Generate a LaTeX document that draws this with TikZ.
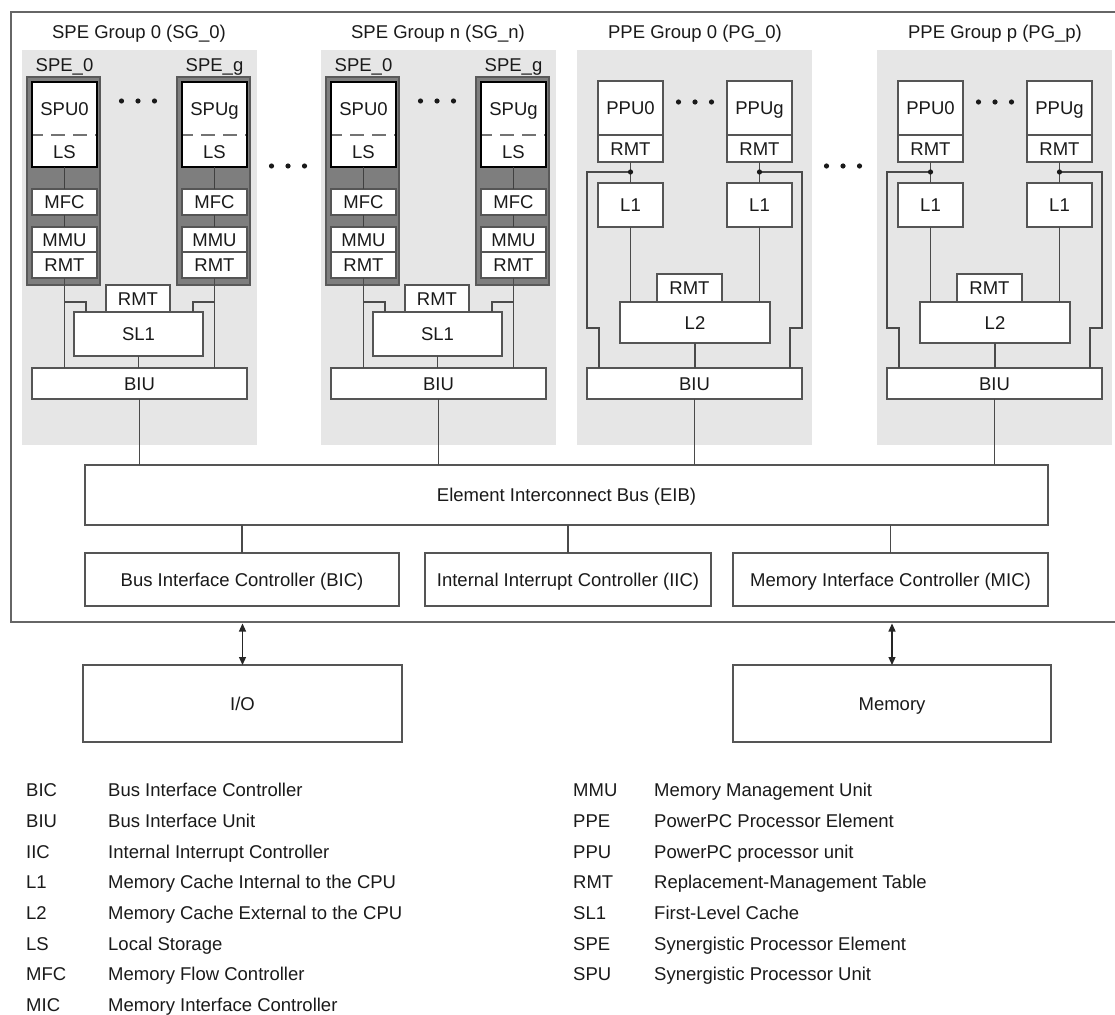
\documentclass[tikz,border=0pt]{standalone}
\usepackage{fontspec}
\setmainfont{Liberation Sans}
\usetikzlibrary{arrows.meta}
\definecolor{bggray}{HTML}{E6E6E6}
\definecolor{spedark}{HTML}{7E7E7E}
\definecolor{linec}{HTML}{4A4A4A}
\definecolor{boxc}{HTML}{555555}
\definecolor{textc}{HTML}{1A1A1A}
\newcommand{\fsz}{\fontsize{18.5}{22}\selectfont}

\newcommand{\mybox}[7][]{%
  \pgfmathsetmacro\mbw{(#5)-(#3)}%
  \pgfmathsetmacro\mbh{(#6)-(#4)}%
  \pgfmathsetmacro\mbx{((#3)+(#5))/2}%
  \pgfmathsetmacro\mby{((#4)+(#6))/2}%
  \node[ubox,minimum width=\mbw pt,minimum height=\mbh pt,#1] (#2) at (\mbx,\mby) {#7};}

\newcommand{\threedots}[2]{%
  \fill[textc] ({#1-16.5},#2) circle (2.6pt) ({#1},#2) circle (2.6pt) ({#1+16.5},#2) circle (2.6pt);}

\newcommand{\SPEunit}[3]{%
  \mybox[speframe]{#1fr}{#2+27}{77}{#2+100}{285}{}
  \mybox[spubox]{#1spu}{#2+32}{82}{#2+97}{167}{}
  \draw[dashln] ({#2+33},135) -- ({#2+96},135);
  \node[txtn] (#1spt) at ({#2+64.5},109) {#3};
  \node[txtn] (#1lst) at ({#2+64.5},152) {LS};
  \mybox{#1mfc}{#2+32}{189}{#2+97}{215}{MFC}
  \mybox{#1mmu}{#2+32}{227}{#2+97}{252}{MMU}
  \mybox{#1rmt}{#2+32}{252}{#2+97}{278}{RMT}
  \draw[darkln] (#1spu.south) -- (#1mfc.north);
  \draw[darkln] (#1mfc.south) -- (#1mmu.north);
}

\newcommand{\SPEgroup}[3]{%
  \fill[groupbg] ({#2+22},50) rectangle ({#2+257},445);
  \node[txtn] (#1title) at ({#2+139},32) {#3};
  \node[txtn] (#1labz) at ({#2+64.5},65) {SPE\_0};
  \node[txtn] (#1labg) at ({#2+214.5},65) {SPE\_g};
  \SPEunit{#1a}{#2}{SPU0}
  \SPEunit{#1b}{#2+150}{SPUg}
  \threedots{#2+138}{101}
  \mybox{#1rmtc}{#2+106}{285}{#2+170}{312}{RMT}
  \mybox{#1sl}{#2+74}{312}{#2+203}{356}{SL1}
  \mybox{#1biu}{#2+32}{368}{#2+247}{399}{BIU}
  \coordinate (#1ua) at ({#2+64.5},302);
  \coordinate (#1ub) at ({#2+86},302);
  \coordinate (#1va) at ({#2+214.5},302);
  \coordinate (#1vb) at ({#2+193},302);
  \draw[conn] (#1armt.south) -- (#1armt.south |- #1biu.north);
  \draw[conn] (#1brmt.south) -- (#1brmt.south |- #1biu.north);
  \draw[conn] (#1ua) -- (#1ub) -- (#1ub |- #1sl.north);
  \draw[conn] (#1va) -- (#1vb) -- (#1vb |- #1sl.north);
  \draw[conn] (#1sl.south) -- (#1sl.south |- #1biu.north);
}

\newcommand{\PPEgroup}[3]{%
  \fill[groupbg] ({#2+577},50) rectangle ({#2+812},445);
  \node[txtn] (#1title) at ({#2+695},32) {#3};
  \mybox{#1ppuz}{#2+598}{81}{#2+663}{135}{PPU0}
  \mybox{#1rmtz}{#2+598}{135}{#2+663}{162}{RMT}
  \mybox{#1ppug}{#2+727}{81}{#2+792}{135}{PPUg}
  \mybox{#1rmtg}{#2+727}{135}{#2+792}{162}{RMT}
  \threedots{#2+695}{102}
  \mybox{#1lonez}{#2+598}{183}{#2+663}{227}{L1}
  \mybox{#1loneg}{#2+727}{183}{#2+792}{227}{L1}
  \mybox{#1rmtl}{#2+657}{274}{#2+722}{302}{RMT}
  \mybox{#1ltwo}{#2+620}{302}{#2+770}{343}{L2}
  \mybox{#1biu}{#2+587}{368}{#2+802}{399}{BIU}
  \coordinate (#1jz) at ({#2+630.5},172);
  \coordinate (#1jg) at ({#2+759.5},172);
  \coordinate (#1pa) at ({#2+587},172);
  \coordinate (#1pb) at ({#2+587},328);
  \coordinate (#1pc) at ({#2+599},328);
  \coordinate (#1qa) at ({#2+802},172);
  \coordinate (#1qb) at ({#2+802},328);
  \coordinate (#1qc) at ({#2+790},328);
  \draw[conn] (#1rmtz.south) -- (#1lonez.north);
  \draw[conn] (#1rmtg.south) -- (#1loneg.north);
  \draw[conn] (#1jz) -- (#1pa) -- (#1pb) -- (#1pc) -- (#1pc |- #1biu.north);
  \draw[conn] (#1jg) -- (#1qa) -- (#1qb) -- (#1qc) -- (#1qc |- #1biu.north);
  \fill[textc] (#1jz) circle (2.6pt) (#1jg) circle (2.6pt);
  \draw[conn] (#1lonez.south) -- (#1lonez.south |- #1ltwo.north);
  \draw[conn] (#1loneg.south) -- (#1loneg.south |- #1ltwo.north);
  \draw[conn] (#1ltwo.south) -- (#1ltwo.south |- #1biu.north);
}

\begin{document}
\begin{tikzpicture}[x=1pt,y=-1pt,
  ubox/.style={draw=boxc,fill=white,line width=1.1pt,inner sep=0pt,outer sep=0pt,
    text height=13.2pt,text depth=0pt,font=\fsz,text=textc},
  speframe/.style={fill=spedark,draw=black!65},
  spubox/.style={draw=black,line width=2pt},
  txtn/.style={inner sep=0pt,text height=13.2pt,text depth=0pt,font=\fsz,text=textc},
  conn/.style={draw=linec,line width=1.1pt},
  darkln/.style={draw=black!75,line width=1.1pt},
  dashln/.style={draw=black!55,line width=1.1pt,dash pattern=on 14pt off 8pt,dash phase=4pt},
  groupbg/.style={fill=bggray},
  framec/.style={draw=black!60,line width=1.3pt},
  dbl/.style={draw=black!85,line width=1.2pt,
    {Triangle[length=8pt,width=7pt]}-{Triangle[length=8pt,width=7pt]}},
  legt/.style={anchor=base west,inner sep=0pt,font=\fsz,text=textc}]
\useasboundingbox (0,0) rectangle (1115,1014);
\fill[white] (0,0) rectangle (1115,1014);

% outer frame (right edge outside the picture)
\coordinate (frTR) at (1125,12);
\coordinate (frTL) at (11,12);
\coordinate (frBL) at (11,622);
\coordinate (frBR) at (1125,622);
\draw[framec] (frTR) -- (frTL) -- (frBL) -- (frBR);

\SPEgroup{sa}{0}{SPE Group 0 (SG\_0)}
\SPEgroup{sb}{299}{SPE Group n (SG\_n)}
\PPEgroup{pa}{0}{PPE Group 0 (PG\_0)}
\PPEgroup{pb}{300}{PPE Group p (PG\_p)}

\threedots{288}{166}
\threedots{843}{166}

\mybox{eib}{85}{465}{1048}{525}{Element Interconnect Bus (EIB)}
\mybox{bic}{85}{553}{399}{606}{Bus Interface Controller (BIC)}
\mybox{iic}{425}{553}{711}{606}{Internal Interrupt Controller (IIC)}
\mybox{mic}{733}{553}{1048}{606}{Memory Interface Controller (MIC)}
\mybox{io}{83}{665}{402}{742}{I/O}
\mybox{mem}{733}{665}{1051}{742}{Memory}

\draw[conn] (sabiu.south) -- (sabiu.south |- eib.north);
\draw[conn] (sbbiu.south) -- (sbbiu.south |- eib.north);
\draw[conn] (pabiu.south) -- (pabiu.south |- eib.north);
\draw[conn] (pbbiu.south) -- (pbbiu.south |- eib.north);
\draw[conn] (bic.north |- eib.south) -- (bic.north);
\draw[conn] (iic.north |- eib.south) -- (iic.north);
\draw[conn] (mic.north |- eib.south) -- (mic.north);

\coordinate (frameb) at (0,623.5);
\draw[dbl] (io.north |- frameb) -- (io.north);
\draw[dbl] (mem.north |- frameb) -- (mem.north);

\foreach \a/\d [count=\i from 0] in {BIC/Bus Interface Controller,BIU/Bus Interface Unit,IIC/Internal Interrupt Controller,L1/Memory Cache Internal to the CPU,L2/Memory Cache External to the CPU,LS/Local Storage,MFC/Memory Flow Controller,MIC/Memory Interface Controller}{
  \node[legt] (lga\i) at (26,{796.6+30.7*\i}) {\a};
  \node[legt] (lgb\i) at (108,{796.6+30.7*\i}) {\d};
}
\foreach \a/\d [count=\i from 0] in {MMU/Memory Management Unit,PPE/PowerPC Processor Element,PPU/PowerPC processor unit,RMT/Replacement-Management Table,SL1/First-Level Cache,SPE/Synergistic Processor Element,SPU/Synergistic Processor Unit}{
  \node[legt] (lgc\i) at (573,{796.6+30.7*\i}) {\a};
  \node[legt] (lgd\i) at (654,{796.6+30.7*\i}) {\d};
}
\end{tikzpicture}
\end{document}
